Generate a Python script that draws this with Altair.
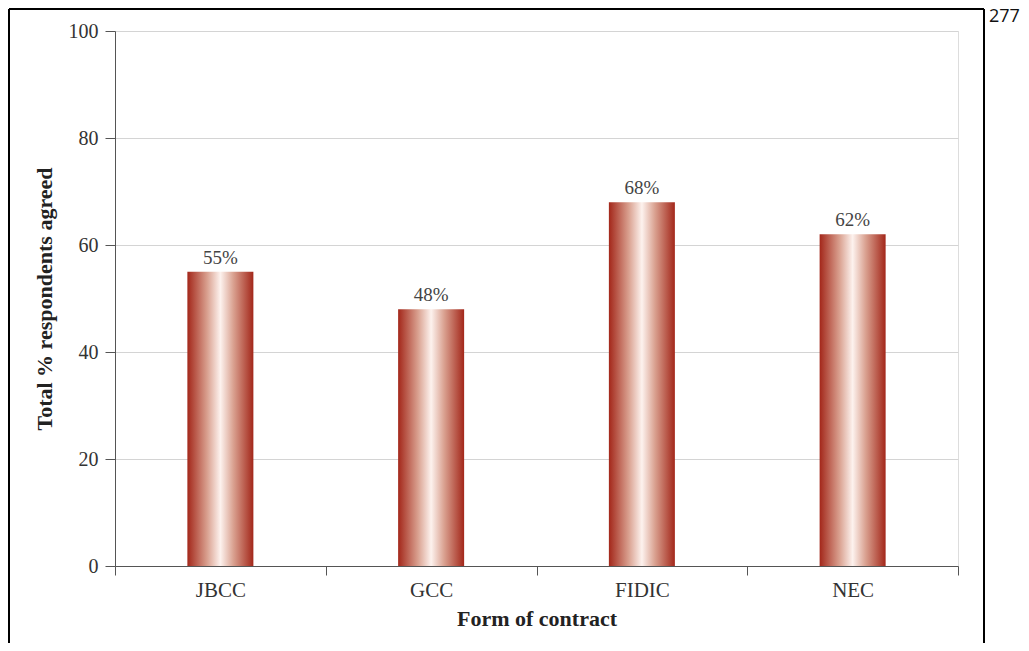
import altair as alt
import pandas as pd

categories = ["JBCC", "GCC", "FIDIC", "NEC"]
values = [55, 48, 68, 62]
labels = ["55%", "48%", "68%", "62%"]
y_ticks = [0, 20, 40, 60, 80, 100]
page_number = "277"

df = pd.DataFrame({"contract": categories, "value": values, "label": labels})

FONT = "Liberation Serif"
W, H = 843, 535
PAD_L, PAD_T, PAD_R, PAD_B = 107, 23, 63, 77

x_enc = alt.X(
    "contract:N",
    sort=categories,
    scale=alt.Scale(paddingInner=0, paddingOuter=0),
    axis=alt.Axis(
        title="Form of contract",
        labelAngle=0,
        tickBand="extent",
        tickSize=9,
        tickColor="#555",
        domainColor="#555",
        labelFont=FONT,
        labelFontSize=21,
        labelColor="#333",
        labelPadding=4,
        titleFont=FONT,
        titleFontSize=22,
        titleFontWeight="bold",
        titleColor="#222",
        titlePadding=8,
        grid=False,
    ),
)

y_enc = alt.Y(
    "value:Q",
    scale=alt.Scale(domain=[0, 100], nice=False),
    axis=alt.Axis(
        title="Total  % respondents agreed",
        values=y_ticks,
        tickSize=10,
        tickColor="#555",
        domainColor="#555",
        gridColor="#d4d4d4",
        labelFont=FONT,
        labelFontSize=20,
        labelColor="#333",
        labelPadding=7,
        titleFont=FONT,
        titleFontSize=22,
        titleFontWeight="bold",
        titleColor="#222",
        titlePadding=12,
    ),
)

gradient = alt.LinearGradient(
    gradient="linear",
    x1=0, x2=1, y1=0, y2=0,
    stops=[
        alt.GradientStop(color="#a3271a", offset=0),
        alt.GradientStop(color="#d9a08f", offset=0.3),
        alt.GradientStop(color="#fdf2ee", offset=0.5),
        alt.GradientStop(color="#d9a08f", offset=0.7),
        alt.GradientStop(color="#a3271a", offset=1),
    ],
)

bars = alt.Chart(df).mark_bar(color=gradient, size=66).encode(x=x_enc, y=y_enc)

text = alt.Chart(df).mark_text(
    font=FONT, fontSize=19, color="#444", baseline="bottom", dy=-4
).encode(x=alt.X("contract:N", sort=categories), y="value:Q", text="label:N")

frame_top = alt.Chart(df).mark_rule(color="#000", strokeWidth=2).encode(
    x=alt.value(-106), x2=alt.value(869), y=alt.value(-22)
)
frame_left = alt.Chart(df).mark_rule(color="#000", strokeWidth=2).encode(
    x=alt.value(-106), y=alt.value(-22), y2=alt.value(H + PAD_B)
)
frame_right = alt.Chart(df).mark_rule(color="#000", strokeWidth=2).encode(
    x=alt.value(869), y=alt.value(-22), y2=alt.value(H + PAD_B)
)
page = alt.Chart(pd.DataFrame({"t": [page_number]})).mark_text(
    font="Open Sans", fontSize=18, color="#111", align="left", baseline="alphabetic"
).encode(x=alt.value(874), y=alt.value(-9), text="t:N")

chart = alt.layer(bars, text, frame_top, frame_left, frame_right, page).properties(
    width=W,
    height=H,
    autosize=alt.AutoSizeParams(type="none"),
    padding={"left": PAD_L, "top": PAD_T, "right": PAD_R, "bottom": PAD_B},
).configure_view(stroke="#555", strokeWidth=1.2).configure(background="white")

chart.save("out.html", embed_options={"renderer": "svg", "actions": False})
